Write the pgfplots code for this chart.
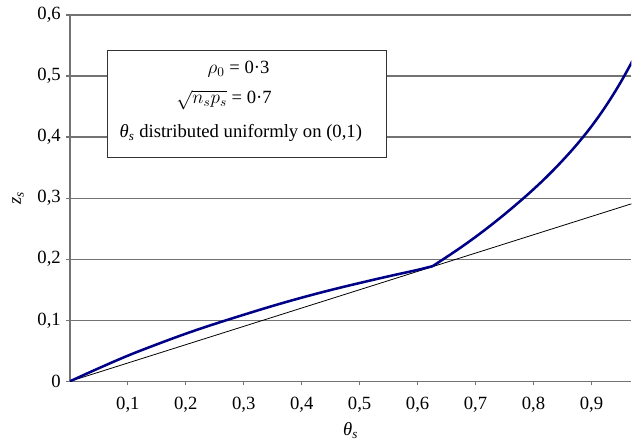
\documentclass[border=0pt]{standalone}
\usepackage{fontspec}
\setmainfont{Liberation Serif}
\usepackage{pgfplots}
\pgfplotsset{compat=1.18}
\definecolor{curveblue}{RGB}{0,0,135}
\definecolor{gridgray}{RGB}{115,115,115}
\begin{document}
\fontsize{14}{16}\selectfont
\begin{tikzpicture}
\begin{axis}[
  name=ax,
  scale only axis,
  width=421.5pt, height=275pt,
  xmin=0, xmax=0.969, ymin=0, ymax=0.6,
  axis x line=bottom, axis y line=left,
  axis line style={gridgray, line width=0.9pt, -},
  xtick={0.1,0.2,0.3,0.4,0.5,0.6,0.7,0.8,0.9},
  ytick={0,0.1,0.2,0.3,0.4,0.5,0.6},
  tick align=outside,
  major tick length=3pt,
  tick style={gridgray, line width=0.9pt},
  /pgf/number format/assume math mode=true,
  /pgf/number format/use comma,
  /pgf/number format/fixed,
  /pgf/number format/precision=1,
  ticklabel style={font=\fontsize{14}{16}\selectfont},
  xticklabel style={yshift=-4pt},
  yticklabel style={xshift=1pt},
  xlabel={\textit{θ}\textsubscript{\textit{s}}},
  ylabel={\textit{z}\textsubscript{\textit{s}}},
  xlabel style={at={(axis description cs:0.5,0)}, anchor=center, yshift=-37pt, font=\fontsize{14}{16}\selectfont},
  ylabel style={at={(axis description cs:0,0.5)}, anchor=center, yshift=39pt, font=\fontsize{14}{16}\selectfont},
  clip=true,
]
% horizontal grid lines, interrupted by the annotation box
\draw[gridgray, line width=0.9pt] (axis cs:0,0.1) -- (axis cs:0.969,0.1);
\draw[gridgray, line width=0.9pt] (axis cs:0,0.2) -- (axis cs:0.969,0.2);
\draw[gridgray, line width=0.9pt] (axis cs:0,0.3) -- (axis cs:0.969,0.3);
\draw[gridgray, line width=0.9pt] (axis cs:0,0.4) -- (axis cs:0.0638,0.4);
\draw[gridgray, line width=0.9pt] (axis cs:0.5466,0.4) -- (axis cs:0.969,0.4);
\draw[gridgray, line width=0.9pt] (axis cs:0,0.5) -- (axis cs:0.0638,0.5);
\draw[gridgray, line width=0.9pt] (axis cs:0.5466,0.5) -- (axis cs:0.969,0.5);
\draw[gridgray, line width=0.9pt] (axis cs:0,0.6) -- (axis cs:0.969,0.6);
\addplot[black, line width=0.6pt] coordinates {(0,0) (0.969,0.2907)};
\addplot[curveblue, line width=1.9pt, smooth, tension=0.6] coordinates {
(0,0) (0.05,0.0215) (0.1,0.042) (0.15,0.0605) (0.2,0.078) (0.25,0.094) (0.3,0.109) (0.35,0.1235) (0.4,0.137) (0.45,0.1495) (0.5,0.161) (0.55,0.172) (0.6,0.1825) (0.626,0.1886)
};
\addplot[curveblue, line width=1.9pt, smooth, tension=0.6] coordinates {
(0.626,0.1886) (0.65,0.2035) (0.675,0.2195) (0.7,0.2365) (0.725,0.2545) (0.75,0.2735) (0.775,0.2935) (0.8,0.3145) (0.825,0.337) (0.85,0.3615) (0.875,0.388) (0.9,0.4175) (0.925,0.451) (0.95,0.489) (0.975,0.532)
};
\coordinate (boxbl) at (axis cs:0.0638,0.3667);
\coordinate (boxtr) at (axis cs:0.5466,0.542);
\coordinate (t1) at (axis cs:0.291,0.511);
\coordinate (t2) at (axis cs:0.266,0.461);
\coordinate (t3) at (axis cs:0.295,0.406);
\end{axis}
\draw[black!80, fill=white, line width=0.6pt] (boxbl) rectangle (boxtr);
\node[font=\fontsize{14}{16}\selectfont] at (t1) {$\rho_0$ = 0·3};
\node[font=\fontsize{14}{16}\selectfont] at (t2) {$\sqrt{n_s p_s}$ = 0·7};
\node[font=\fontsize{14}{16}\selectfont] at (t3) {\textit{θ}\textsubscript{\textit{s}} distributed uniformly on (0,1)};
\path ([xshift=-52.5pt,yshift=-46.7pt]ax.south west) rectangle ([yshift=11.25pt]ax.north east);
\end{tikzpicture}
\end{document}
